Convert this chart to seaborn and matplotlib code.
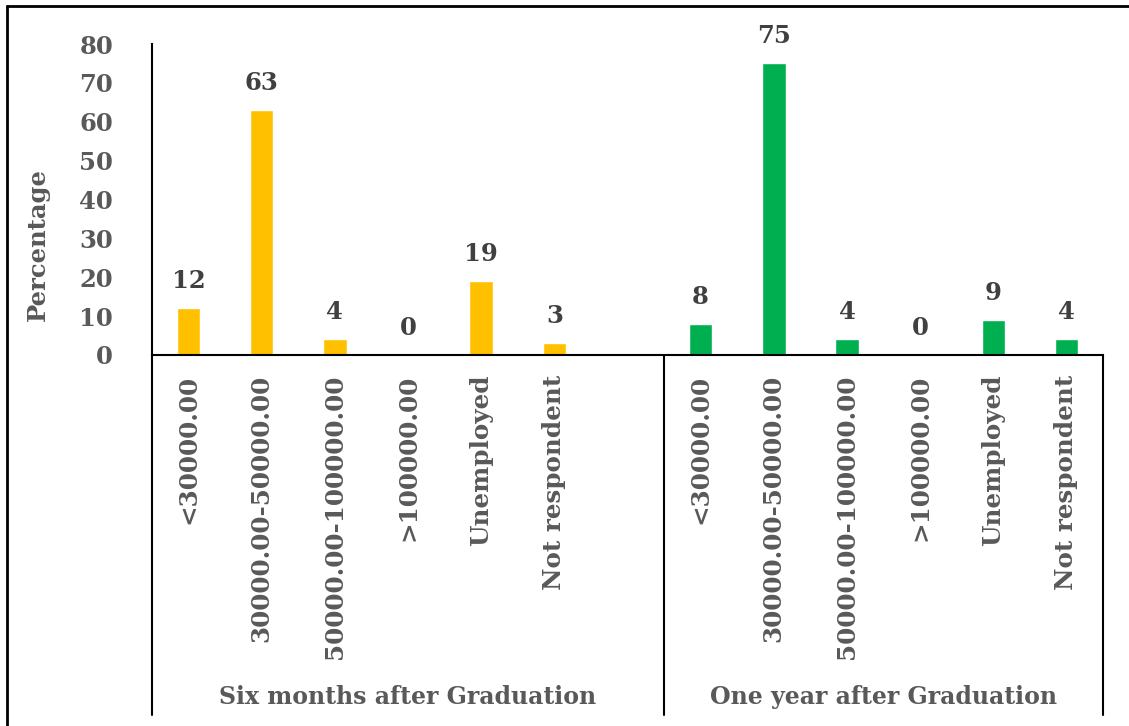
import matplotlib
matplotlib.use("Agg")
import matplotlib.pyplot as plt
import matplotlib.transforms as mtransforms
from matplotlib.lines import Line2D
import seaborn as sns
import pandas as pd

# ---- data ----
categories = ["<30000.00", "30000.00-50000.00", "50000.00-100000.00",
              ">100000.00", "Unemployed", "Not respondent"]
groups = ["Six months after Graduation", "One year after Graduation"]
six_months = [12, 63, 4, 0, 19, 3]
one_year = [8, 75, 4, 0, 9, 4]
colors = {"Six months after Graduation": "#FFC000",
          "One year after Graduation": "#00B050"}

rows = []
for c, v in zip(categories, six_months):
    rows.append({"slot": "A|" + c, "label": c, "group": groups[0], "value": v})
for c, v in zip(categories, one_year):
    rows.append({"slot": "B|" + c, "label": c, "group": groups[1], "value": v})
df = pd.DataFrame(rows)

order = ["A|" + c for c in categories] + ["A|"] + ["B|" + c for c in categories]
tick_labels = categories + [""] + categories

sns.set_theme(style="white")
plt.rcParams["font.family"] = ["DejaVu Serif"]
plt.rcParams["font.weight"] = "bold"

fig = plt.figure(figsize=(11.29, 7.26), dpi=100)
ax = fig.add_axes([152 / 1129, 1 - 355 / 726, (1103 - 152) / 1129, (355 - 44) / 726])

sns.barplot(data=df, x="slot", y="value", hue="group", order=order,
            palette=colors, dodge=False, width=0.32, ax=ax, legend=False,
            saturation=1, errorbar=None)

for cont in ax.containers:
    ax.bar_label(cont, fmt="%.0f", padding=11, fontsize=17.5, fontweight="bold",
                 color="#404040")

ax.set_xlim(-0.5, len(order) - 0.5)
ax.set_ylim(0, 80)
ax.set_yticks(range(0, 81, 10))
ax.tick_params(axis="y", labelsize=17.5, labelcolor="#595959", length=0, pad=28)
ax.set_xticks(range(len(order)))
ax.set_xticklabels(tick_labels, rotation=90, fontsize=17.7, color="#595959",
                   fontweight="bold", va="top", ha="center")
ax.tick_params(axis="x", length=0, pad=14)
ax.set_xlabel("")
ax.set_ylabel("Percentage", fontsize=17.5, color="#595959", fontweight="bold")
ax.yaxis.set_label_coords(-0.107, (355 - 245) / 311)

for s in ["top", "right"]:
    ax.spines[s].set_visible(False)
for s in ["left", "bottom"]:
    ax.spines[s].set_color("black")
    ax.spines[s].set_linewidth(1.5)
ax.grid(False)

# multi-level axis lines
trans = mtransforms.blended_transform_factory(ax.transData, fig.transFigure)
y_axis = 1 - 355 / 726
y_bot = 1 - 715 / 726
for xv in [-0.5, 6.5, 12.5]:
    ax.add_line(Line2D([xv, xv], [y_axis, y_bot], transform=trans,
                       color="black", lw=1.5, clip_on=False))

# group labels
y_grp = 1 - 697 / 726
ax.text(3.0, y_grp, groups[0], transform=trans, ha="center", va="center",
        fontsize=17, fontweight="bold", color="#595959")
ax.text(9.5, y_grp, groups[1], transform=trans, ha="center", va="center",
        fontsize=17, fontweight="bold", color="#595959")

# outer border (left and top visible)
fig.add_artist(Line2D([7 / 1129, 7 / 1129], [0, 1 - 6 / 726],
                      transform=fig.transFigure, color="black", lw=2))
fig.add_artist(Line2D([7 / 1129, 1], [1 - 6 / 726, 1 - 6 / 726],
                      transform=fig.transFigure, color="black", lw=2))

fig.savefig("out.png", dpi=100)
